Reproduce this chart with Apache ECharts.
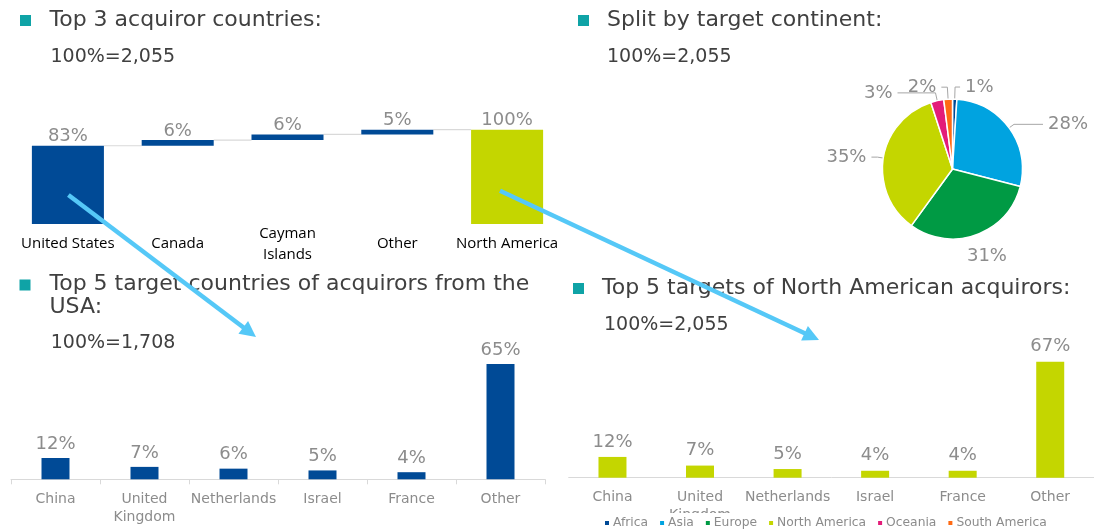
<!DOCTYPE html>
<html>
<head>
<meta charset="utf-8">
<script src="https://cdn.jsdelivr.net/npm/echarts@6/dist/echarts.min.js"></script>
<style>
html,body{margin:0;padding:0;background:#fff;}
#main{width:1094px;height:531px;}
</style>
</head>
<body>
<div id="main"></div>
<script>
// ---- data ----
const wfCategories = ['United States', 'Canada', 'Cayman\nIslands', 'Other', 'North America'];
const wfValues = [83, 6, 6, 5, 100];
const wfIsTotal = [false, false, false, false, true];

const continentNames = ['Africa', 'Asia', 'Europe', 'North America', 'Oceania', 'South America'];
const continentValues = [1, 28, 31, 35, 3, 2];

const usaCategories = ['China', 'United\nKingdom', 'Netherlands', 'Israel', 'France', 'Other'];
const usaValues = [12, 7, 6, 5, 4, 65];

const naCategories = ['China', 'United\nKingdom', 'Netherlands', 'Israel', 'France', 'Other'];
const naValues = [12, 7, 5, 4, 4, 67];

const titles = {
  t1: 'Top 3 acquiror countries:',
  s1: '100%=2,055',
  t2: 'Split by target continent:',
  s2: '100%=2,055',
  t3: 'Top 5 target countries of acquirors from the\nUSA:',
  s3: '100%=1,708',
  t4: 'Top 5 targets of North American acquirors:',
  s4: '100%=2,055'
};

// ---- styles ----
const DARK_BLUE = '#004A96';
const LIME = '#C4D600';
const continentColors = ['#004A96', '#00A3E0', '#009A44', '#C4D600', '#E31C79', '#FF6A13'];
// per-slice label line lengths (style only)
const pieLineLen = [[12, 5], [6, 29], [14, 0], [6, 6], [8, 38], [12, 6]];
const GRAY_LABEL = '#8C8C8C';
const AXIS_GRAY = '#D9D9D9';
const TITLE_COLOR = '#404040';
const TEAL = '#0FA3A6';
const ARROW = '#55C8F7';
const FONT = 'DejaVu Sans';

// waterfall helper values (derived from data)
const wfBase = [];
let running = 0;
wfValues.forEach((v, i) => {
  if (i === 0 || wfIsTotal[i]) { wfBase.push(0); running = v; }
  else { wfBase.push(running); running += v; }
});
const wfConnectors = [];
for (let i = 0; i < wfValues.length - 1; i++) {
  wfConnectors.push([i, wfBase[i] + wfValues[i]]);
}
const WF_BAR_RATIO = 0.656;

const chart = echarts.init(document.getElementById('main'), null, {renderer: 'canvas'});

function arrow(x1, y1, x2, y2) {
  const dx = x2 - x1, dy = y2 - y1, len = Math.sqrt(dx * dx + dy * dy);
  const ux = dx / len, uy = dy / len;
  const headL = 16, headW = 8;
  const bx = x2 - ux * headL, by = y2 - uy * headL;
  return [
    {type: 'line', z: 100, shape: {x1: x1, y1: y1, x2: bx + ux * 2, y2: by + uy * 2},
      style: {stroke: ARROW, lineWidth: 4.5}},
    {type: 'polygon', z: 100, shape: {points: [[x2, y2], [bx - uy * headW, by + ux * headW], [bx + uy * headW, by - ux * headW]]},
      style: {fill: ARROW}}
  ];
}

function txt(text, x, y, size, lh) {
  return {type: 'text', z: 50, style: {text: text, x: x, y: y, fill: TITLE_COLOR,
    font: size + 'px "' + FONT + '"', textVerticalAlign: 'middle', textAlign: 'left', lineHeight: lh || size * 1.2}};
}
function bullet(x, y) {
  return {type: 'rect', z: 50, shape: {x: x, y: y, width: 11, height: 11}, style: {fill: TEAL}};
}

const valueLabel = (dist) => ({
  show: true, position: 'top', distance: dist, color: GRAY_LABEL,
  fontFamily: FONT, fontSize: 18, formatter: p => p.value + '%'
});

const option = {
  animation: false,
  backgroundColor: '#fff',
  grid: [
    {left: 13, width: 549, top: 129.7, height: 94.3},
    {left: 11, width: 534, top: 355.1, height: 124.2},
    {left: 568.7, width: 534, top: 356.5, height: 121.2}
  ],
  xAxis: [
    {type: 'category', gridIndex: 0, data: wfCategories,
      axisLine: {show: false}, axisTick: {show: false},
      axisLabel: {color: '#000', fontFamily: 'Open Sans', fontSize: 15, margin: 20,
        verticalAlign: 'middle', lineHeight: 20.7, interval: 0}},
    {type: 'category', gridIndex: 1, data: usaCategories,
      axisLine: {show: true, lineStyle: {color: AXIS_GRAY, width: 1}},
      axisTick: {show: true, length: 5, lineStyle: {color: AXIS_GRAY}},
      axisLabel: {color: GRAY_LABEL, fontFamily: FONT, fontSize: 14, margin: 11,
        verticalAlign: 'top', lineHeight: 18, interval: 0}},
    {type: 'category', gridIndex: 2, data: naCategories,
      axisLine: {show: true, lineStyle: {color: AXIS_GRAY, width: 1}},
      axisTick: {show: false},
      axisLabel: {color: GRAY_LABEL, fontFamily: FONT, fontSize: 14, margin: 11,
        verticalAlign: 'top', lineHeight: 18, interval: 0}}
  ],
  yAxis: [
    {type: 'value', gridIndex: 0, min: 0, max: 100, show: false},
    {type: 'value', gridIndex: 1, min: 0, max: 70, show: false},
    {type: 'value', gridIndex: 2, min: 0, max: 70, show: false}
  ],
  legend: {
    data: continentNames, left: 599, top: 513, icon: 'rect', itemWidth: 6, itemHeight: 6,
    itemGap: 10, backgroundColor: '#fff', padding: [4, 8, 4, 4],
    textStyle: {fontFamily: FONT, fontSize: 12.3, color: GRAY_LABEL, padding: [0, 0, 0, -2]}
  },
  series: [
    {type: 'bar', xAxisIndex: 0, yAxisIndex: 0, stack: 'wf', data: wfBase,
      barWidth: (WF_BAR_RATIO * 100) + '%', itemStyle: {color: 'transparent'}, silent: true},
    {type: 'bar', xAxisIndex: 0, yAxisIndex: 0, stack: 'wf',
      data: wfValues.map((v, i) => ({value: v, itemStyle: {color: wfIsTotal[i] ? LIME : DARK_BLUE}})),
      barWidth: (WF_BAR_RATIO * 100) + '%', label: valueLabel(0)},
    {type: 'custom', xAxisIndex: 0, yAxisIndex: 0, data: wfConnectors, z: 1,
      renderItem: function (params, api) {
        const i = api.value(0), v = api.value(1);
        const a = api.coord([i, v]), b = api.coord([i + 1, v]);
        const hb = api.size([1, 0])[0] * WF_BAR_RATIO / 2;
        return {type: 'line', shape: {x1: a[0] + hb, y1: a[1], x2: b[0] - hb, y2: b[1]},
          style: {stroke: AXIS_GRAY, lineWidth: 1.2}};
      }},
    {type: 'bar', xAxisIndex: 1, yAxisIndex: 1, data: usaValues, barWidth: 28,
      itemStyle: {color: DARK_BLUE}, label: valueLabel(5)},
    {type: 'bar', xAxisIndex: 2, yAxisIndex: 2, data: naValues, barWidth: 28,
      itemStyle: {color: LIME}, label: valueLabel(6)},
    {type: 'pie', center: [952.5, 169], radius: 70, startAngle: 90, clockwise: true,
      avoidLabelOverlap: false,
      itemStyle: {borderColor: '#fff', borderWidth: 1.5},
      label: {show: true, color: GRAY_LABEL, fontFamily: FONT, fontSize: 18, formatter: p => p.value + '%'},
      labelLine: {show: true, length: 6, length2: 14, lineStyle: {color: '#A6A6A6', width: 1}},
      labelLayout: function (params) {
        if (params.dataIndex === 2) { return {dx: -19, dy: 8}; }
        return {};
      },
      data: continentNames.map((n, i) => ({
        name: n, value: continentValues[i], itemStyle: {color: continentColors[i]},
        labelLine: {show: i !== 2, length: pieLineLen[i][0], length2: pieLineLen[i][1]}
      }))}
  ],
  graphic: [
    bullet(20, 15), txt(titles.t1, 49.5, 20, 22), txt(titles.s1, 50.5, 56.7, 19),
    bullet(578, 15), txt(titles.t2, 607, 20, 22), txt(titles.s2, 607, 56.7, 19),
    bullet(19.5, 279.5), txt(titles.t3, 49.5, 295.7, 22, 23.3), txt(titles.s3, 50.7, 343.3, 19),
    bullet(573, 283), txt(titles.t4, 602, 288.3, 22), txt(titles.s4, 604, 325, 19)
  ].concat(arrow(68.4, 195, 256, 337)).concat(arrow(500, 190.7, 819, 340))
};
chart.setOption(option);
</script>
</body>
</html>
